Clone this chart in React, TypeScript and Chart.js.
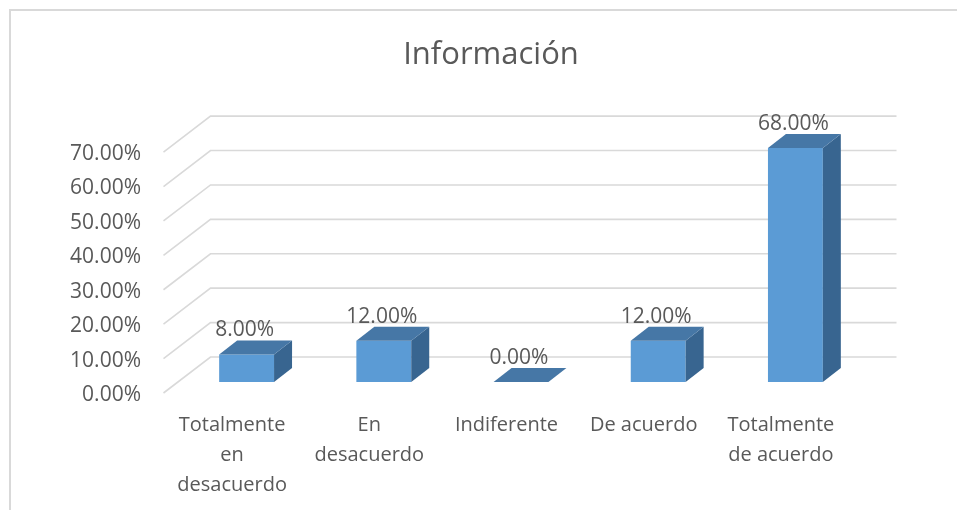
import React, { useEffect, useRef } from "react";
import { Chart, registerables } from "chart.js";

Chart.register(...registerables);

const chartTitle = "Información";
const categories: (string | string[])[] = [
  ["Totalmente", "en", "desacuerdo"],
  ["En", "desacuerdo"],
  "Indiferente",
  "De acuerdo",
  ["Totalmente", "de acuerdo"],
];
const values = [8, 12, 0, 12, 68];
const yTicks = [0, 10, 20, 30, 40, 50, 60, 70];
const yMin = 0;
const yMax = 70;

const FONT = "'Open Sans', 'Noto Sans', sans-serif";
const TEXT = "#595959";
const GRID = "#D9D9D9";
const FRONT = "#5B9BD5";
const TOP = "#4677A6";
const SIDE = "#386590";

// perspective offsets (pixels) relative to the bar front plane
const FRONT_OFF = { x: -14.5, y: 11 };
const BACK_OFF = { x: 32.5, y: -25 };
const BAR_DEPTH = { x: 18, y: -14 };

const threeD = {
  id: "threeD",
  beforeDatasetsDraw(chart: any) {
    const { ctx, chartArea } = chart;
    const y = chart.scales.y;
    ctx.save();
    ctx.strokeStyle = GRID;
    ctx.lineWidth = 1.6;
    for (const v of yTicks) {
      const py = y.getPixelForValue(v);
      ctx.beginPath();
      ctx.moveTo(chartArea.left + FRONT_OFF.x, py + FRONT_OFF.y);
      ctx.lineTo(chartArea.left + BACK_OFF.x, py + BACK_OFF.y);
      ctx.lineTo(chartArea.right + BACK_OFF.x, py + BACK_OFF.y);
      ctx.stroke();
    }
    ctx.restore();
  },
  afterDatasetsDraw(chart: any) {
    const { ctx } = chart;
    const meta = chart.getDatasetMeta(0);
    const dx = BAR_DEPTH.x;
    const dy = BAR_DEPTH.y;
    ctx.save();
    meta.data.forEach((el: any, i: number) => {
      const { x, y, base, width } = el.getProps(["x", "y", "base", "width"], true);
      const x0 = x - width / 2;
      const x1 = x + width / 2;
      // side face
      ctx.fillStyle = SIDE;
      ctx.beginPath();
      ctx.moveTo(x1, y);
      ctx.lineTo(x1 + dx, y + dy);
      ctx.lineTo(x1 + dx, base + dy);
      ctx.lineTo(x1, base);
      ctx.closePath();
      ctx.fill();
      // top face
      ctx.fillStyle = TOP;
      ctx.beginPath();
      ctx.moveTo(x0, y);
      ctx.lineTo(x1, y);
      ctx.lineTo(x1 + dx, y + dy);
      ctx.lineTo(x0 + dx, y + dy);
      ctx.closePath();
      ctx.fill();
      // data label
      ctx.fillStyle = TEXT;
      ctx.font = `21px ${FONT}`;
      ctx.textAlign = "center";
      ctx.textBaseline = "middle";
      ctx.fillText(values[i].toFixed(2) + "%", x - 2, y - 24);
    });
    ctx.restore();
  },
};

export default function App() {
  const ref = useRef<HTMLCanvasElement | null>(null);

  useEffect(() => {
    if (!ref.current) return;
    const chart = new Chart(ref.current, {
      type: "bar",
      data: {
        labels: categories,
        datasets: [
          {
            data: values,
            backgroundColor: FRONT,
            borderWidth: 0,
            barPercentage: 0.4,
            categoryPercentage: 1,
            clip: false as any,
            yAxisID: "y",
          },
        ],
      },
      options: {
        responsive: false,
        animation: false,
        layout: { padding: { left: 25, right: 0, top: 0, bottom: 0 } },
        plugins: {
          legend: { display: false },
          tooltip: { enabled: false },
          title: {
            display: true,
            text: chartTitle,
            color: TEXT,
            font: { family: FONT, size: 31, weight: "normal" as any, lineHeight: 1.2 },
            padding: { top: 37, bottom: 66.9 },
          },
        },
        scales: {
          x: {
            grid: { display: false },
            border: { display: false },
            ticks: {
              color: TEXT,
              font: { family: FONT, size: 20, lineHeight: 1.5 },
              padding: 20,
              labelOffset: -14.5,
              autoSkip: false,
              maxRotation: 0,
              minRotation: 0,
            },
            afterFit: (s: any) => {
              s.height = 128;
            },
          },
          y: {
            min: yMin,
            max: yMax,
            grid: { display: false },
            border: { display: false },
            ticks: {
              stepSize: 10,
              color: TEXT,
              font: { family: FONT, size: 21 },
              padding: 29,
              labelOffset: 13,
              callback: (v: any) => Number(v).toFixed(2) + "%",
            },
            afterFit: (s: any) => {
              s.width = 153;
            },
          },
          yRight: {
            position: "right",
            display: true,
            grid: { display: false },
            border: { display: false },
            ticks: { display: false },
            afterFit: (s: any) => {
              s.width = 93;
            },
          },
        },
      },
      plugins: [threeD],
    });
    return () => chart.destroy();
  }, []);

  return (
    <div
      style={{
        position: "fixed",
        left: 0,
        top: 0,
        width: 957,
        height: 510,
        background: "#fff",
        overflow: "hidden",
      }}
    >
      <canvas ref={ref} width={957} height={510} style={{ display: "block" }} />
      <div
        style={{
          position: "absolute",
          left: 9,
          top: 9,
          width: 960,
          height: 510,
          borderLeft: "2px solid #D9D9D9",
          borderTop: "2px solid #D9D9D9",
          pointerEvents: "none",
        }}
      />
    </div>
  );
}
